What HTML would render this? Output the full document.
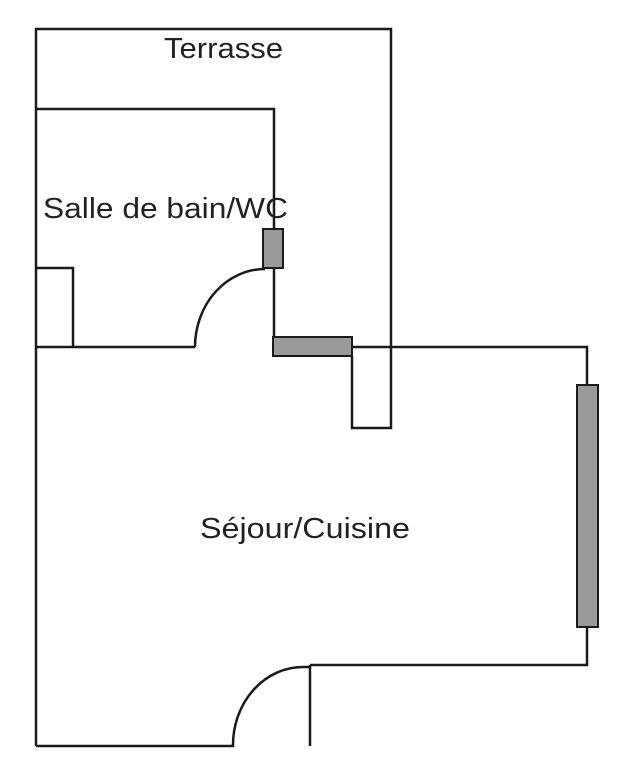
<!DOCTYPE html>
<html><head><meta charset="utf-8"><style>html,body{margin:0;padding:0;background:#fff;width:637px;height:768px;overflow:hidden}</style></head>
<body>
<svg width="637" height="768" viewBox="0 0 637 768" xmlns="http://www.w3.org/2000/svg">
<g fill="none" stroke="#1a1a1a" stroke-width="2.5">
<path d="M36 746 V29 H391 V428 H352 V356"/>
<path d="M36 109 H274 V268"/>
<path d="M274 268 V337"/>
<path d="M36 347 H195"/>
<path d="M36 268 H73 V347"/>
<path d="M195 347 A70 78 0 0 1 265 269"/>
<path d="M352 347 H587 V665 H310"/>
<path d="M310 665 V746"/>
<path d="M36 746 H233 A70 78 0 0 1 303 667 H310"/>
</g>
<g fill="#9a9a9a" stroke="#1a1a1a" stroke-width="2">
<rect x="263" y="229" width="20" height="39"/>
<rect x="273" y="337" width="79" height="19"/>
<rect x="577" y="385" width="21" height="242"/>
</g>
<g font-family="Liberation Sans, Arial, sans-serif" font-size="29" fill="#222">
<text x="164" y="58" textLength="119" lengthAdjust="spacingAndGlyphs">Terrasse</text>
<text x="43" y="218" textLength="245" lengthAdjust="spacingAndGlyphs">Salle de bain/WC</text>
<text x="200" y="538" textLength="210" lengthAdjust="spacingAndGlyphs">Séjour/Cuisine</text>
</g>
</svg>
</body></html>
